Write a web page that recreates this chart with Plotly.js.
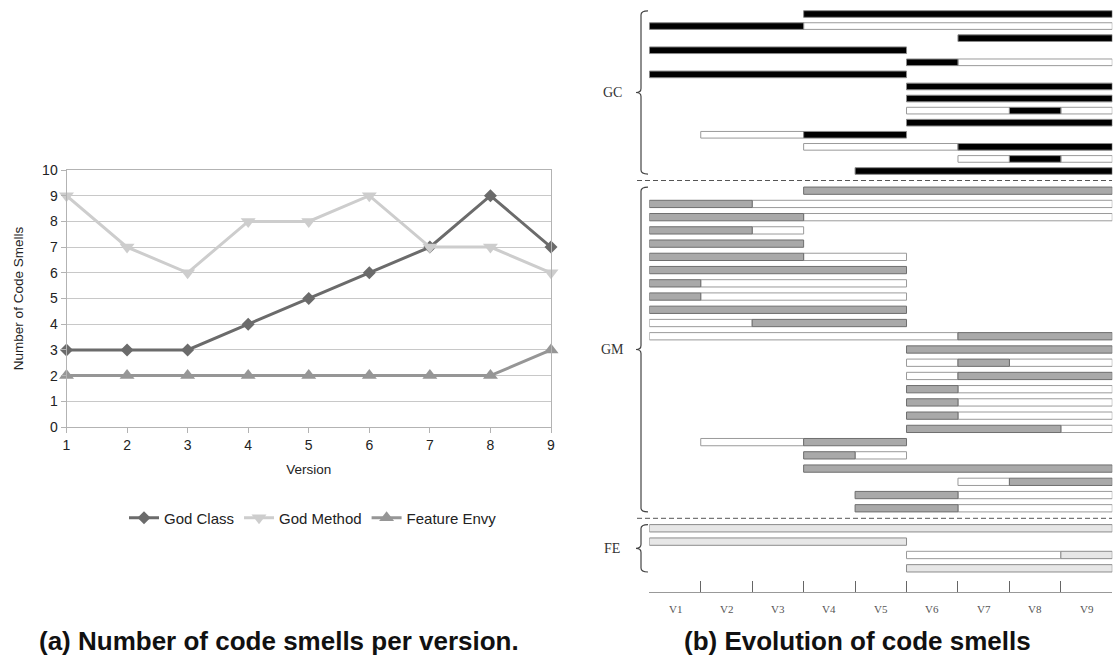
<!DOCTYPE html>
<html><head><meta charset="utf-8">
<script src="https://cdn.plot.ly/plotly-3.0.1.min.js"></script>
<style>html,body{margin:0;padding:0;background:#fff}#chart{width:1113px;height:660px}</style>
</head><body><div id="chart"></div>
<script>
// ---- Data: chart (a) ----
const versions = [1, 2, 3, 4, 5, 6, 7, 8, 9];
const godClass = [3, 3, 3, 4, 5, 6, 7, 9, 7];
const godMethod = [9, 7, 6, 8, 8, 9, 7, 7, 6];
const featureEnvy = [2, 2, 2, 2, 2, 2, 2, 2, 3];
const seriesNames = ['God Class', 'God Method', 'Feature Envy'];

// ---- Data: chart (b) ----  one string per smell instance, one char per version
// 'x' = smell present, 'o' = entity present but not smelly, '.' = absent
const versionLabels = ['V1', 'V2', 'V3', 'V4', 'V5', 'V6', 'V7', 'V8', 'V9'];
const groupNames = ['GC', 'GM', 'FE'];
const gcRows = [
  '...xxxxxx', 'xxxoooooo', '......xxx', 'xxxxx....', '.....xooo', 'xxxxx....',
  '.....xxxx', '.....xxxx', '.....ooxo', '.....xxxx', '.ooxx....', '...oooxxx',
  '......oxo', '....xxxxx'
];
const gmRows = [
  '...xxxxxx', 'xxooooooo', 'xxxoooooo', 'xxo......', 'xxx......', 'xxxoo....',
  'xxxxx....', 'xoooo....', 'xoooo....', 'xxxxx....', 'ooxxx....', 'ooooooxxx',
  '.....xxxx', '.....oxoo', '.....oxxx', '.....xooo', '.....xooo', '.....xooo',
  '.....xxxo', '.ooxx....', '...xo....', '...xxxxxx', '......oxx', '....xxooo',
  '....xxooo'
];
const feRows = ['xxxxxxxxx', 'xxxxx....', '.....ooox', '.....xxxx'];

// ---- Layout helpers ----
const W = 1113, H = 660;
const fx = x => x / W;
const fy = y => 1 - y / H;
const P = (x, y) => fx(x).toFixed(5) + ',' + fy(y).toFixed(5);

const groupRows = [gcRows, gmRows, feRows];
// pixel extents of each group (top of first row band, bottom of last row band)
const groupPix = [[7.96, 177.04], [184.08, 514.9], [521.6, 575.0]];
const smellFill = ['#000000', '#a9a9a9', '#e7e7e7'];
const smellLine = ['#8a8a8a', '#6e6e6e', '#8c8c8c'];

function runs(rows) {
  const out = { x: [], o: [] };
  rows.forEach((r, i) => {
    let j = 0;
    while (j < r.length) {
      const c = r[j]; let k = j;
      while (k < r.length && r[k] === c) k++;
      if (c !== '.') out[c].push({ row: i, start: j, len: k - j });
      j = k;
    }
  });
  return out;
}

const traces = [
  { x: versions, y: godClass, name: seriesNames[0], type: 'scatter', mode: 'lines+markers',
    line: { color: '#6b6b6b', width: 3 }, marker: { symbol: 'diamond', size: 10, color: '#6b6b6b' }, cliponaxis: false },
  { x: versions, y: godMethod, name: seriesNames[1], type: 'scatter', mode: 'lines+markers',
    line: { color: '#cdcdcd', width: 3 }, marker: { symbol: 'triangle-down', size: 13, color: '#cdcdcd' }, cliponaxis: false },
  { x: versions, y: featureEnvy, name: seriesNames[2], type: 'scatter', mode: 'lines+markers',
    line: { color: '#969696', width: 3 }, marker: { symbol: 'triangle-up', size: 13, color: '#969696' }, cliponaxis: false }
];

const layout = {
  width: W, height: H, autosize: false,
  margin: { l: 0, r: 0, t: 0, b: 0 },
  paper_bgcolor: '#fff', plot_bgcolor: 'rgba(0,0,0,0)',
  font: { family: 'Liberation Sans, Arial, sans-serif', size: 12, color: '#222' },
  barmode: 'overlay',
  showlegend: true,
  legend: { orientation: 'h', x: fx(313), xanchor: 'center', y: fy(518), yanchor: 'middle',
    font: { size: 15, color: '#222' }, bgcolor: 'rgba(0,0,0,0)', itemwidth: 30 },
  xaxis: { domain: [fx(66.5), fx(551)], range: [1, 9], anchor: 'y', tickvals: versions,
    showgrid: false, zeroline: false, showline: true, linecolor: '#b3b3b3', mirror: true,
    ticks: 'outside', ticklen: 5, tickcolor: '#b3b3b3', automargin: false,
    tickfont: { size: 14, color: '#222' },
    title: { text: 'Version', font: { size: 13.5, color: '#222' }, standoff: 12 } },
  yaxis: { domain: [fy(427), fy(170)], range: [0, 10], dtick: 1, anchor: 'x',
    showgrid: true, gridcolor: '#c8c8c8', zeroline: false, showline: true, linecolor: '#b3b3b3', mirror: true,
    ticks: 'outside', ticklen: 5, tickcolor: '#b3b3b3', automargin: false,
    tickfont: { size: 14, color: '#222' },
    title: { text: 'Number of Code Smells', font: { size: 13.5, color: '#222' }, standoff: 15 } },
  xaxis2: { domain: [fx(649.3), fx(1112.3)], range: [0, 9], anchor: 'free', position: fy(591.7),
    tickvals: versions.map((v, i) => i).concat([9]), showticklabels: false,
    ticks: 'inside', ticklen: 11, tickcolor: '#666', tickwidth: 1,
    showline: true, linecolor: '#999', linewidth: 1.5, showgrid: false, zeroline: false, automargin: false },
  shapes: [], annotations: []
};

groupRows.forEach((rows, gi) => {
  const ax = 'yaxis' + (gi + 3);
  const [top, bot] = groupPix[gi];
  layout[ax] = { domain: [fy(bot), fy(top)], range: [rows.length - 0.5, -0.5], anchor: 'x2',
    visible: false, showgrid: false, zeroline: false, fixedrange: true };
  const r = runs(rows);
  [['o', '#ffffff', '#9a9a9a'], ['x', smellFill[gi], smellLine[gi]]].forEach(([k, fill, ln]) => {
    traces.push({ type: 'bar', orientation: 'h', xaxis: 'x2', yaxis: 'y' + (gi + 3),
      y: r[k].map(s => s.row), x: r[k].map(s => s.len), base: r[k].map(s => s.start),
      width: 0.55, marker: { color: fill, line: { color: ln, width: 1 } },
      showlegend: false, hoverinfo: 'skip' });
  });
  // bracket
  const t = top + 3, b = bot - 3, m = (top + bot) / 2;
  layout.shapes.push({ type: 'path', xref: 'paper', yref: 'paper',
    path: `M ${P(648, t)} Q ${P(641, t)} ${P(641, t + 4)} L ${P(641, m - 4)} Q ${P(641, m)} ${P(636, m)} ` +
          `Q ${P(641, m)} ${P(641, m + 4)} L ${P(641, b - 4)} Q ${P(641, b)} ${P(648, b)}`,
    line: { color: '#444', width: 1.2 } });
  layout.annotations.push({ xref: 'paper', yref: 'paper', x: fx(612), y: fy(m), text: groupNames[gi],
    showarrow: false, xanchor: 'center', yanchor: 'middle',
    font: { family: 'Liberation Serif, Times New Roman, serif', size: 14, color: '#333' } });
});

// dashed separators between groups
[180.5, 518.3].forEach(yy => {
  layout.shapes.push({ type: 'line', xref: 'paper', yref: 'paper', x0: fx(637), x1: fx(1112), y0: fy(yy), y1: fy(yy),
    line: { color: '#555', width: 1, dash: '5px,3px' } });
});

// version labels for chart (b)
versionLabels.forEach((lab, i) => {
  layout.annotations.push({ xref: 'x2', yref: 'paper', x: i + 0.5, y: fy(609), text: lab, showarrow: false,
    xanchor: 'center', yanchor: 'middle',
    font: { family: 'Liberation Serif, Times New Roman, serif', size: 11, color: '#555' } });
});

// captions
layout.annotations.push({ xref: 'paper', yref: 'paper', x: fx(279), y: fy(641), text: '<b>(a) Number of code smells per version.</b>',
  showarrow: false, xanchor: 'center', yanchor: 'middle', font: { size: 26, color: '#111' } });
layout.annotations.push({ xref: 'paper', yref: 'paper', x: fx(857), y: fy(641), text: '<b>(b) Evolution of code smells</b>',
  showarrow: false, xanchor: 'center', yanchor: 'middle', font: { size: 26, color: '#111' } });

Plotly.newPlot('chart', traces, layout, { displayModeBar: false, staticPlot: true });
</script>
</body></html>
